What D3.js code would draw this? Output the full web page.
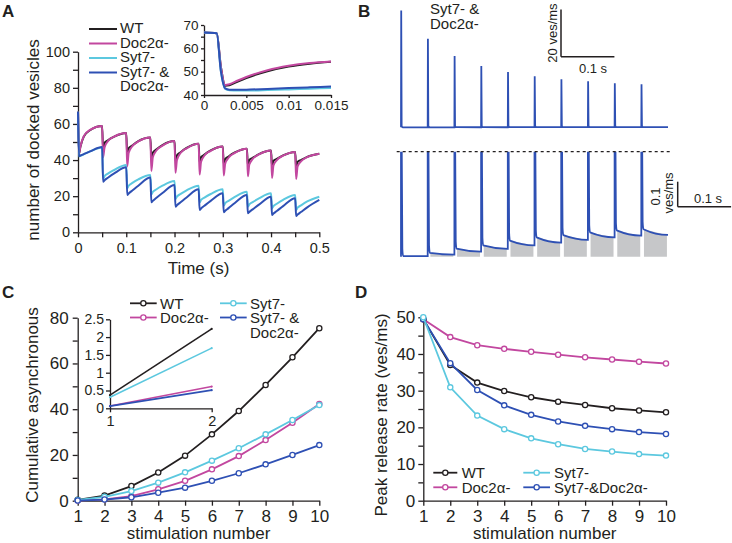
<!DOCTYPE html>
<html><head><meta charset="utf-8">
<script src="https://cdn.jsdelivr.net/npm/d3@7"></script>
<style>
body{margin:0;background:#fff}
svg text{font-family:"Liberation Sans",Arial,Helvetica,sans-serif;fill:#231f20}
</style>
</head><body>
<svg id="c" width="732" height="543"></svg>
<script>
// ---------------- DATA ----------------
const seriesNames = ["WT", "Doc2α-", "Syt7-", "Syt7- & Doc2α-"];
const seriesColors = ["#231f20", "#c2479f", "#5cc8df", "#2e50b4"];

// Panel A: docked vesicles; each segment = values at stim+segOffsets
const stimTimes = [0, 0.05, 0.1, 0.15, 0.2, 0.25, 0.3, 0.35, 0.4, 0.45];
const segOffsets = [0.002, 0.005, 0.012, 0.025, 0.05];
const dockedStart = 66.8;
const dockedWT = [
  [43.5, 47.3, 53, 56.5, 58.8], [46, 49.5, 51, 53, 55], [42.5, 46.5, 48, 50.5, 52.5],
  [40.5, 44, 45.8, 48.3, 50.5], [39.5, 42.5, 44.2, 46.7, 49], [38.5, 41.5, 43, 45.3, 47.5],
  [37.5, 40.5, 42, 44.2, 46.3], [37, 40, 41.2, 43.3, 45.3], [36.5, 39.5, 40.7, 42.6, 44.5],
  [36, 39, 40, 41.8, 43.5]];
const dockedDoc2 = [
  [43.5, 47.5, 53.2, 56.7, 58.8], [41.5, 47, 50.5, 53, 55], [36.5, 44, 47.5, 50.3, 52.5],
  [34, 41.5, 45.2, 48, 50.5], [33, 40, 43.8, 46.5, 49], [32, 39, 42.5, 45.1, 47.5],
  [31.5, 38, 41.3, 44, 46.3], [31, 37.5, 40.6, 43.1, 45.3], [30, 37, 40, 42.4, 44.5],
  [29.5, 36.5, 39.3, 41.6, 43.5]];
const dockedSyt7 = [
  [42, 42.3, 43.2, 44.8, 47], [29.5, 31, 32.5, 34.5, 37.3], [24.4, 25.8, 27.2, 29.3, 31.7],
  [21, 22.3, 23.7, 25.8, 28.4], [18.5, 19.8, 21.1, 23.2, 25.8], [16.6, 17.9, 19.2, 21.2, 23.8],
  [14.8, 16.1, 17.4, 19.6, 22.5], [14.2, 15.4, 16.7, 18.8, 21.6], [13.3, 14.5, 15.8, 18, 20.7],
  [12.4, 13.6, 14.9, 17.1, 19.7]];
const dockedDouble = [
  [42.2, 42.5, 43.3, 44.8, 47.2], [28, 28.8, 30.2, 32.6, 36], [20.7, 21.5, 23, 25.8, 30.3],
  [16.6, 17.4, 19, 21.8, 26.2], [14.2, 15, 16.5, 19.3, 23.8], [12.4, 13.2, 14.7, 17.4, 21.6],
  [11.1, 11.9, 13.4, 16.2, 20.7], [10.5, 11.3, 12.7, 15.3, 19.7], [9.6, 10.4, 11.8, 14.5, 18.8],
  [9.0, 9.8, 11.2, 13.8, 17.9]];

// Panel A inset (first 15 ms)
const insetT = [0, 0.0015, 0.002, 0.0025, 0.003, 0.004, 0.005, 0.0075, 0.01, 0.0125, 0.015];
const insetWT = [66.8, 66.5, 52, 44, 44.2, 45.8, 47.3, 50.2, 52.2, 53.4, 54.2];
const insetDoc2 = [66.8, 66.5, 52, 44.3, 44.6, 46.2, 47.7, 50.6, 52.5, 53.7, 54.4];
const insetSyt7 = [66.8, 66.5, 50, 42.6, 42, 41.9, 41.9, 42.1, 42.4, 42.7, 43];
const insetDouble = [66.8, 66.5, 50, 42.8, 42.3, 42.2, 42.3, 42.6, 43, 43.3, 43.6];

// Panel B: asynchronous release level after each stimulus (ves/ms)
const asyncStart = [0.002, 0.015, 0.032, 0.045, 0.064, 0.077, 0.086, 0.097, 0.105, 0.11];
const asyncEnd = [0.002, 0.008, 0.02, 0.031, 0.045, 0.056, 0.067, 0.077, 0.084, 0.087];
// spike fall: time after stimulus and rate above the async level
const spikeFallDt = [0.0012, 0.0025];
const spikeFallRate = [0.5, 0.03];

// Panel C: cumulative asynchronous release
const stimNumbers = [1, 2, 3, 4, 5, 6, 7, 8, 9, 10];
const cumWT = [0.37, 2.23, 6.4, 12.3, 19.7, 29, 39.2, 50.6, 62.7, 75.4];
const cumDoc2 = [0.065, 0.61, 2.0, 5.0, 8.7, 13.7, 19.5, 26.5, 34.1, 42.3];
const cumSyt7 = [0.31, 1.69, 4.2, 7.9, 12.4, 17.5, 22.9, 29, 35.3, 41.8];
const cumDouble = [0.06, 0.51, 1.5, 3.5, 5.7, 8.7, 12, 15.9, 20, 24.3];

// Panel D: peak release rate
const peakWT = [49.5, 37, 32.2, 29.9, 28.2, 27, 26.1, 25.2, 24.6, 24.1];
const peakDoc2 = [49.5, 44.6, 42.4, 41.4, 40.6, 39.8, 39.1, 38.5, 37.9, 37.4];
const peakSyt7 = [50, 30.9, 23.2, 19.5, 17, 15.4, 14.1, 13.4, 12.7, 12.3];
const peakDouble = [49.5, 37.5, 30.2, 26, 23.4, 21.6, 20.4, 19.5, 18.7, 18.2];

// ---------------- DRAWING ----------------
const svg = d3.select("#c");
const INK = "#231f20";
const FONT = '"Liberation Sans", Arial, Helvetica, sans-serif';

function styleAxis(g, fs) {
  g.attr("font-size", fs).attr("font-family", FONT).attr("color", INK);
  g.selectAll("path,line").attr("stroke-width", 1.3);
}
function txt(x, y, s, fs, opts = {}) {
  const t = svg.append("text").attr("x", x).attr("y", y).attr("font-size", fs).text(s);
  if (opts.anchor) t.attr("text-anchor", opts.anchor);
  if (opts.weight) t.attr("font-weight", opts.weight);
  return t;
}
function rtxt(x, y, s, fs) {
  return svg.append("text").attr("transform", `translate(${x},${y}) rotate(-90)`)
    .attr("text-anchor", "middle").attr("font-size", fs).text(s);
}
function hline(x1, x2, y, col, w = 1.3, dash) {
  const l = svg.append("line").attr("x1", x1).attr("x2", x2).attr("y1", y).attr("y2", y)
    .attr("stroke", col).attr("stroke-width", w);
  if (dash) l.attr("stroke-dasharray", dash);
  return l;
}
function vline(x, y1, y2, col, w = 1.3) {
  return svg.append("line").attr("x1", x).attr("x2", x).attr("y1", y1).attr("y2", y2)
    .attr("stroke", col).attr("stroke-width", w);
}

// Panel labels
txt(2, 17, "A", 17, {weight: "bold"});
txt(358, 17, "B", 17, {weight: "bold"});
txt(2, 298, "C", 17, {weight: "bold"});
txt(355, 298, "D", 17, {weight: "bold"});

// ===== Panel A =====
const xA = d3.scaleLinear().domain([0, 0.5]).range([78, 319.3]);
const yA = d3.scaleLinear().domain([0, 100]).range([232.3, 51.7]);
const aTicksX = d3.range(0, 11).map(i => i * 0.05);
styleAxis(svg.append("g").attr("transform", `translate(0,${yA(0)})`)
  .call(d3.axisBottom(xA).tickValues(aTicksX).tickSize(5).tickPadding(5).tickSizeOuter(0)
    .tickFormat((d, i) => i % 2 === 0 ? (i === 0 ? "0" : d.toFixed(1)) : "")), 14.5);
styleAxis(svg.append("g").attr("transform", `translate(${xA(0)},0)`)
  .call(d3.axisLeft(yA).tickValues(d3.range(0, 101, 10)).tickSize(5).tickPadding(3).tickSizeOuter(0)
    .tickFormat(d => d % 20 === 0 ? d : "")), 14.5);
rtxt(39, 140, "number of docked vesicles", 17);
txt(198.5, 274, "Time (s)", 17, {anchor: "middle"});

function dockedPoints(segs) {
  const p = [[stimTimes[0], dockedStart]];
  segs.forEach((s, k) => s.forEach((v, j) => p.push([stimTimes[k] + segOffsets[j], v])));
  return p;
}
const lineA = d3.line().x(d => xA(d[0])).y(d => yA(d[1])).curve(d3.curveMonotoneX);
[dockedWT, dockedDoc2, dockedSyt7, dockedDouble].forEach((s, i) => {
  svg.append("path").attr("d", lineA(dockedPoints(s))).attr("fill", "none")
    .attr("stroke", seriesColors[i]).attr("stroke-width", 2);
});

// Legend A
const legA = [["WT", 33.3, 29], ["Doc2α-", 47.8, 43.5], ["Syt7-", 62.2, 58], ["Syt7- &", 76.6, 72.5]];
legA.forEach((r, i) => {
  hline(89, 117, r[2], seriesColors[i], 2);
  txt(120, r[1], r[0], 15);
});
txt(120, 91, "Doc2α-", 15);

// Inset A
const xAi = d3.scaleLinear().domain([0, 0.015]).range([204, 331]);
const yAi = d3.scaleLinear().domain([40, 70]).range([95, 25]);
styleAxis(svg.append("g").attr("transform", `translate(0,${yAi(40)})`)
  .call(d3.axisBottom(xAi).tickValues([0, 0.005, 0.01, 0.015]).tickSize(3).tickPadding(2).tickSizeOuter(0)
    .tickFormat(d => d === 0 ? "0" : String(+d.toFixed(3)))), 13.5);
styleAxis(svg.append("g").attr("transform", `translate(${xAi(0)},0)`)
  .call(d3.axisLeft(yAi).tickValues(d3.range(40, 71, 5)).tickSize(3).tickPadding(2.5).tickSizeOuter(0)
    .tickFormat(d => d % 10 === 0 ? d : "")), 13.5);
const lineAi = d3.line().x((d, i) => xAi(insetT[i])).y(d => yAi(d)).curve(d3.curveMonotoneX);
[insetWT, insetDoc2, insetSyt7, insetDouble].forEach((s, i) => {
  svg.append("path").attr("d", lineAi(s)).attr("fill", "none")
    .attr("stroke", seriesColors[i]).attr("stroke-width", 2);
});

// ===== Panel B =====
const xB = d3.scaleLinear().domain([0, 0.5]).range([401, 668]);
const yBtop = d3.scaleLinear().domain([0, 50]).range([127.3, 9.3]);
const yBbot = d3.scaleLinear().domain([0, 0.4]).range([256.7, 156.7]);
const tracePts = [];
stimTimes.forEach((t, k) => {
  const prev = k ? asyncEnd[k - 1] : 0;
  tracePts.push([t, prev], [t + 0.0004, peakDouble[k]]);
  spikeFallDt.forEach((dt, j) => tracePts.push([t + dt, asyncStart[k] + spikeFallRate[j]]));
  tracePts.push([t + 0.004, asyncStart[k]], [t + 0.0495, asyncEnd[k]]);
});
tracePts.push([0.5, asyncEnd[asyncEnd.length - 1]]);
const blue = seriesColors[3];
svg.append("path").attr("d", d3.line().x(d => xB(d[0])).y(d => yBtop(d[1]))(tracePts))
  .attr("fill", "none").attr("stroke", blue).attr("stroke-width", 1.8);

// gray async areas
const areaB = d3.area().x(d => xB(d[0])).y0(yBbot(0)).y1(d => yBbot(d[1]));
stimTimes.forEach((t, k) => {
  if (k === 0) return;
  svg.append("path").attr("d", areaB([[t + 0.005, asyncStart[k]], [t + 0.048, asyncEnd[k]]]))
    .attr("fill", "#c6c7c9");
});
svg.append("clipPath").attr("id", "clipB").append("rect")
  .attr("x", 390).attr("y", yBbot(0.42)).attr("width", 290).attr("height", 120);
svg.append("path").attr("d", d3.line().x(d => xB(d[0])).y(d => yBbot(d[1])).curve(d3.curveMonotoneX)(tracePts))
  .attr("clip-path", "url(#clipB)")
  .attr("fill", "none").attr("stroke", blue).attr("stroke-width", 1.8);
hline(396.7, 670, yBbot(0.42), INK, 1.3, "3,3");

txt(430, 13.5, "Syt7- &", 15);
txt(430, 28.5, "Doc2α-", 15);

// scale bars B top
const sbx = 561, sby = 56.7;
vline(sbx, sby, sby - (yBtop(0) - yBtop(20)), INK, 1.5);
hline(sbx, sbx + (xB(0.1) - xB(0)), sby, INK, 1.5);
rtxt(557, 33, "20 ves/ms", 13);
txt(593, 72.5, "0.1 s", 13, {anchor: "middle"});
// scale bars B bottom
const sb2x = 677.7, sb2y = 206.7;
vline(sb2x, sb2y, sb2y - (yBbot(0) - yBbot(0.1)), INK, 1.5);
hline(sb2x, sb2x + (xB(0.1) - xB(0)), sb2y, INK, 1.5);
rtxt(660, 196.5, "0.1", 13);
rtxt(673, 193, "ves/ms", 13);
txt(708, 203, "0.1 s", 13, {anchor: "middle"});

// ===== Panel C =====
const xC = d3.scaleLinear().domain([1, 10]).range([77.7, 319.3]);
const yC = d3.scaleLinear().domain([0, 80]).range([500.7, 317.7]);
styleAxis(svg.append("g").attr("transform", `translate(0,${yC(0)})`)
  .call(d3.axisBottom(xC).tickValues(stimNumbers).tickSize(5).tickPadding(4).tickSizeOuter(0)), 17);
styleAxis(svg.append("g").attr("transform", `translate(${xC(1)},0)`)
  .call(d3.axisLeft(yC).tickValues(d3.range(0, 81, 10)).tickSize(5).tickPadding(4).tickSizeOuter(0)
    .tickFormat(d => d % 20 === 0 ? d : "")), 17);
rtxt(38, 405, "Cumulative asynchronous", 17);
txt(198.5, 539, "stimulation number", 17, {anchor: "middle"});

function markerSeries(xs, ys, vals, col, r, w) {
  svg.append("path").attr("d", d3.line().x((d, i) => xs(stimNumbers[i])).y(d => ys(d))(vals))
    .attr("fill", "none").attr("stroke", col).attr("stroke-width", w);
  svg.append("g").selectAll("circle").data(vals).join("circle")
    .attr("cx", (d, i) => xs(stimNumbers[i])).attr("cy", d => ys(d)).attr("r", r)
    .attr("fill", "#fff").attr("stroke", col).attr("stroke-width", 1.3);
}
[cumWT, cumDoc2, cumSyt7, cumDouble].forEach((s, i) => markerSeries(xC, yC, s, seriesColors[i], 2.6, 1.8));

// Inset C
const xCi = d3.scaleLinear().domain([1, 2]).range([110, 211.7]);
const yCi = d3.scaleLinear().domain([0, 2.5]).range([408.3, 319.3]);
styleAxis(svg.append("g").attr("transform", `translate(0,${yCi(0)})`)
  .call(d3.axisBottom(xCi).tickValues([1, 2]).tickSize(4).tickPadding(3).tickSizeOuter(0)
    .tickFormat(d => String(d))), 14.5);
styleAxis(svg.append("g").attr("transform", `translate(${xCi(1)},0)`)
  .call(d3.axisLeft(yCi).tickValues(d3.range(0, 2.51, 0.5)).tickSize(4).tickPadding(2).tickSizeOuter(0)
    .tickFormat(d => String(d))), 14);
[cumWT, cumDoc2, cumSyt7, cumDouble].forEach((s, i) => {
  const v = s.slice(0, 2);
  svg.append("path").attr("d", d3.line().x((d, j) => xCi(stimNumbers[j])).y(d => yCi(d))(v))
    .attr("fill", "none").attr("stroke", seriesColors[i]).attr("stroke-width", 1.6);
  svg.append("g").selectAll("circle").data(v).join("circle")
    .attr("cx", (d, j) => xCi(stimNumbers[j])).attr("cy", d => yCi(d)).attr("r", 1.1)
    .attr("fill", seriesColors[i]);
});

// Legend C
function legItem(x1, x2, y, col, tx, ty, label) {
  hline(x1, x2, y, col, 1.8);
  svg.append("circle").attr("cx", (x1 + x2) / 2).attr("cy", y).attr("r", 2.6)
    .attr("fill", "#fff").attr("stroke", col).attr("stroke-width", 1.3);
  txt(tx, ty, label, 15);
}
legItem(130, 156.7, 303.3, seriesColors[0], 160, 309, "WT");
legItem(130, 156.7, 317.5, seriesColors[1], 160, 323, "Doc2α-");
legItem(220, 246.7, 303.3, seriesColors[2], 250, 309, "Syt7-");
legItem(220, 246.7, 317.5, seriesColors[3], 250, 323, "Syt7- &");
txt(250, 337.5, "Doc2α-", 15);

// ===== Panel D =====
const xD = d3.scaleLinear().domain([1, 10]).range([423.3, 666]);
const yD = d3.scaleLinear().domain([0, 50]).range([500.7, 317.3]);
styleAxis(svg.append("g").attr("transform", `translate(0,${yD(0)})`)
  .call(d3.axisBottom(xD).tickValues(stimNumbers).tickSize(5).tickPadding(4).tickSizeOuter(0)), 17);
styleAxis(svg.append("g").attr("transform", `translate(${xD(1)},0)`)
  .call(d3.axisLeft(yD).tickValues(d3.range(0, 51, 5)).tickSize(5).tickPadding(3).tickSizeOuter(0)
    .tickFormat(d => d % 10 === 0 ? d : "")), 17);
rtxt(387, 415, "Peak release rate (ves/ms)", 17);
txt(544.7, 539, "stimulation number", 17, {anchor: "middle"});
const peakSeries = [peakWT, peakDoc2, peakSyt7, peakDouble];
[1, 0, 3, 2].forEach(i => markerSeries(xD, yD, peakSeries[i], seriesColors[i], 2.6, 1.8));
legItem(433.3, 457.3, 472.7, seriesColors[0], 461.7, 478, "WT");
legItem(433.3, 457.3, 487.3, seriesColors[1], 461.7, 492.7, "Doc2α-");
legItem(523.3, 550, 472.7, seriesColors[2], 554, 478, "Syt7-");
legItem(523.3, 550, 487.3, seriesColors[3], 554, 492.7, "Syt7-&Doc2α-");
</script>
</body></html>
